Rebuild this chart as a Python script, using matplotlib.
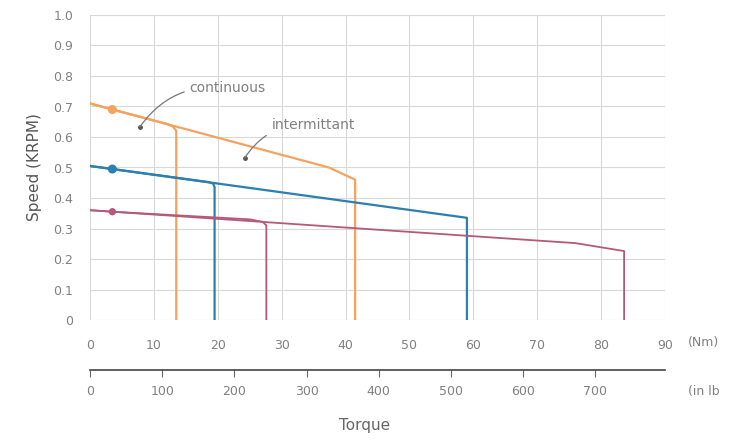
import matplotlib.pyplot as plt

# torque (Nm) vs speed (KRPM)
orange_cont_x = [0, 3.5, 12.0, 13.0, 13.5, 13.5]
orange_cont_y = [0.71, 0.690, 0.643, 0.634, 0.62, 0]
orange_int_x = [0, 37.4, 41.5, 41.5]
orange_int_y = [0.71, 0.50, 0.46, 0]

blue_cont_x = [0, 3.5, 18.6, 19.3, 19.5, 19.5]
blue_cont_y = [0.505, 0.495, 0.452, 0.447, 0.435, 0]
blue_int_x = [0, 59.0, 59.0]
blue_int_y = [0.505, 0.335, 0]

pink_cont_x = [0, 3.5, 25.0, 27.0, 27.6, 27.6]
pink_cont_y = [0.36, 0.355, 0.33, 0.322, 0.31, 0]
pink_int_x = [0, 76.0, 83.6, 83.6]
pink_int_y = [0.36, 0.252, 0.226, 0]

marker_x = [3.5, 3.5, 3.5]
marker_y = [0.690, 0.495, 0.355]

nm_ticks = [0, 10, 20, 30, 40, 50, 60, 70, 80, 90]
speed_ticks = [0, 0.1, 0.2, 0.3, 0.4, 0.5, 0.6, 0.7, 0.8, 0.9, 1.0]
speed_labels = ['0', '0.1', '0.2', '0.3', '0.4', '0.5', '0.6', '0.7', '0.8', '0.9', '1.0']
inlb_ticks = [0, 100, 200, 300, 400, 500, 600, 700]
NM_TO_INLB = 8.85

c_orange = '#f4a25e'
c_blue = '#2c7fae'
c_pink = '#b5587a'
txt = '#808080'

fig = plt.figure(figsize=(7.52, 4.4), dpi=100)
ax = fig.add_axes([90 / 752, 120 / 440, 575 / 752, 305 / 440])

ax.plot(orange_int_x, orange_int_y, color=c_orange, lw=1.6)
ax.plot(orange_cont_x, orange_cont_y, color=c_orange, lw=1.6)
ax.plot(blue_int_x, blue_int_y, color=c_blue, lw=1.6)
ax.plot(blue_cont_x, blue_cont_y, color=c_blue, lw=1.6)
ax.plot(pink_int_x, pink_int_y, color=c_pink, lw=1.3)
ax.plot(pink_cont_x, pink_cont_y, color=c_pink, lw=1.3)
ax.scatter(marker_x, marker_y, color=[c_orange, c_blue, c_pink], s=[30, 30, 18], zorder=5)

ax.set_xlim(0, 90)
ax.set_ylim(0, 1.0)
ax.set_xticks(nm_ticks)
ax.set_yticks(speed_ticks)
ax.set_yticklabels(speed_labels)
ax.grid(True, color='#d8d8d8', lw=0.8)
ax.set_axisbelow(True)
for s in ax.spines.values():
    s.set_visible(False)
ax.tick_params(length=0, colors=txt, labelsize=9)
ax.tick_params(axis='x', pad=14)
ax.tick_params(axis='y', pad=12)
ax.set_ylabel('Speed (KRPM)', color='#555555', fontsize=11, labelpad=8)

# annotations
ax.annotate('continuous', xy=(7.8, 0.633), xytext=(15.6, 0.76), color=txt, fontsize=10,
            va='center', arrowprops=dict(arrowstyle='-', color='#777777', lw=0.9,
                                         connectionstyle='arc3,rad=0.3', shrinkA=2, shrinkB=0))
ax.annotate('intermittant', xy=(24.2, 0.531), xytext=(28.4, 0.64), color=txt, fontsize=10,
            va='center', arrowprops=dict(arrowstyle='-', color='#777777', lw=0.9,
                                         connectionstyle='arc3,rad=0.3', shrinkA=2, shrinkB=0))
ax.plot([7.8, 24.2], [0.633, 0.531], 'o', color='#555555', ms=2.5)

ax.text(1.04, -0.075, '(Nm)', transform=ax.transAxes, color=txt, fontsize=9, va='center')

# second torque scale in in-lb
sec = ax.secondary_xaxis(-50 / 305, functions=(lambda x: x * NM_TO_INLB, lambda x: x / NM_TO_INLB))
sec.set_xticks(inlb_ticks)
sec.spines['bottom'].set_color('#444444')
sec.spines['bottom'].set_linewidth(1.2)
sec.tick_params(direction='out', length=5, color='#666666', colors=txt, labelsize=9, pad=6)
ax.text(1.04, -0.235, '(in lb', transform=ax.transAxes, color=txt, fontsize=9, va='center')

fig.text(365 / 752, 1 - 425 / 440, 'Torque', color='#666666', fontsize=11, ha='center', va='center')

fig.savefig('out.png', dpi=100)
